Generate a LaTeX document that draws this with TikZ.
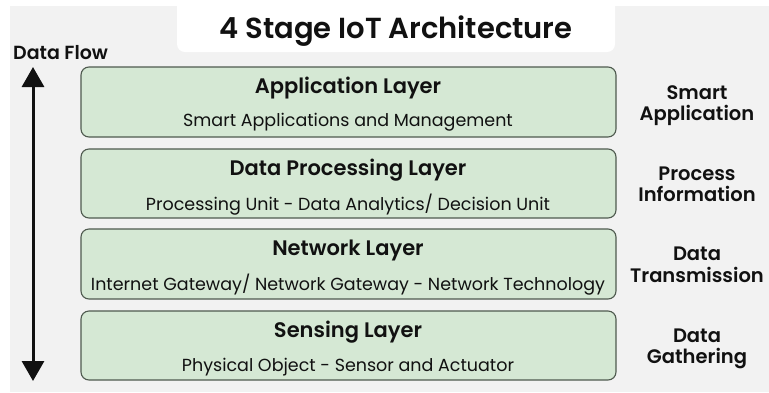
\documentclass[tikz,border=0pt]{standalone}
\usepackage{fontspec}
\setmainfont{Poppins}[BoldFont=* SemiBold]
\usetikzlibrary{arrows.meta}
\definecolor{pagegray}{HTML}{F2F2F2}
\definecolor{layerfill}{HTML}{D5E8D4}
\definecolor{layerline}{HTML}{4F5A4F}
\definecolor{ink}{HTML}{111111}
\tikzset{
  layerbox/.style={draw=layerline, fill=layerfill, line width=1.1pt, rounded corners=8pt},
  layertitle/.style={anchor=base, font=\fontsize{21}{24}\selectfont\bfseries, text=ink, inner sep=0pt},
  layersub/.style={anchor=base, font=\fontsize{17.5}{20}\selectfont, text=ink, inner sep=0pt},
  rolelabel/.style={anchor=base, font=\fontsize{19.5}{22}\selectfont\bfseries, text=ink, inner sep=0pt},
}
\begin{document}
\begin{tikzpicture}[x=1pt, y=-1pt]
  % page and backdrop
  \fill[white] (0,0) rectangle (769,392);
  \fill[pagegray] (10,6) rectangle (769,392);
  \useasboundingbox (0,0) rectangle (769,392);
  % title banner
  \fill[white, rounded corners=8pt] (177,-20) rectangle (615,52);
  \node[anchor=base, font=\fontsize{29}{32}\selectfont\bfseries, text=ink, inner sep=0pt] (title) at (396,38) {4 Stage IoT Architecture};
  % data flow arrow
  \node[anchor=base west, font=\fontsize{19}{22}\selectfont\bfseries, text=ink, inner sep=0pt] (flowlabel) at (13,59) {Data Flow};
  \coordinate (flowtop) at (33,67);
  \coordinate (flowbot) at (33,381);
  \draw[ink, line width=3pt, {Triangle[width=22pt,length=20pt]}-{Triangle[width=22pt,length=20pt]}] (flowtop) -- (flowbot);
  % layers
  \draw[layerbox] (81,67) rectangle (616,137);
  \draw[layerbox] (81,149) rectangle (616,218);
  \draw[layerbox] (81,229) rectangle (616,299);
  \draw[layerbox] (81,311) rectangle (616,380);
  \node[layertitle] (app) at (348,93) {Application Layer};
  \node[layersub] (appsub) at (348,126) {Smart Applications and Management};
  \node[layertitle] (proc) at (348,175) {Data Processing Layer};
  \node[layersub] (procsub) at (348,210) {Processing Unit - Data Analytics/ Decision Unit};
  \node[layertitle] (net) at (348,255) {Network Layer};
  \node[layersub] (netsub) at (348,290) {Internet Gateway/ Network Gateway - Network Technology};
  \node[layertitle] (sens) at (348,337) {Sensing Layer};
  \node[layersub] (senssub) at (348,371) {Physical Object - Sensor and Actuator};
  % role of each layer
  \node[rolelabel] (r1a) at (697,99) {Smart};
  \node[rolelabel] (r1b) at (697,120) {Application};
  \node[rolelabel] (r2a) at (697,180) {Process};
  \node[rolelabel] (r2b) at (697,201) {Information};
  \node[rolelabel] (r3a) at (697,260) {Data};
  \node[rolelabel] (r3b) at (697,282) {Transmission};
  \node[rolelabel] (r4a) at (697,342) {Data};
  \node[rolelabel] (r4b) at (697,363) {Gathering};
\end{tikzpicture}
\end{document}
